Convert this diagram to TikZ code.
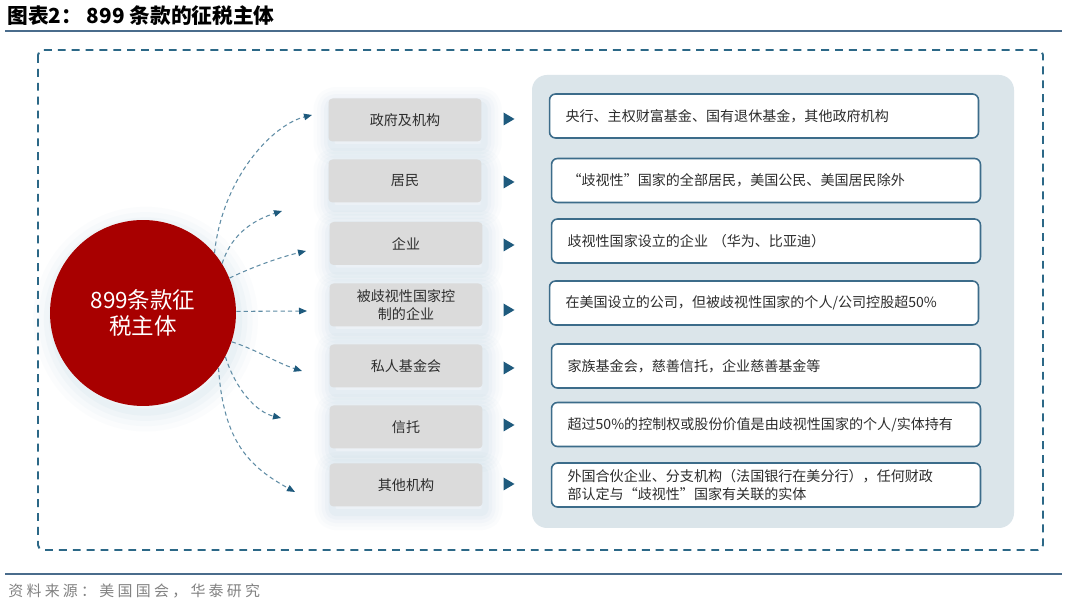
\documentclass[tikz,border=0pt]{standalone}
\usepackage{fontspec}
\setmainfont{Noto Sans CJK SC}
\usetikzlibrary{arrows.meta}
\definecolor{frameblue}{RGB}{44,104,135}
\definecolor{rulecol}{RGB}{74,108,140}
\definecolor{circred}{RGB}{168,0,0}
\definecolor{boxgrey}{RGB}{219,219,219}
\definecolor{panel}{RGB}{219,229,234}
\definecolor{rbord}{RGB}{60,108,138}
\definecolor{tricol}{RGB}{30,90,125}
\definecolor{arrcol}{RGB}{95,140,165}
\definecolor{txt}{RGB}{45,45,45}
\definecolor{glowcol}{RGB}{150,190,212}
\definecolor{footcol}{RGB}{130,130,130}
\tikzset{
  gl/.style 2 args={preaction={draw=glowcol, line width=#1, draw opacity=#2, line join=round, transform canvas={yshift=-3.5pt, xshift=1.5pt}}},
  glow/.style={gl={20pt}{0.035}, gl={16pt}{0.04}, gl={12pt}{0.05}, gl={8pt}{0.06}, gl={4pt}{0.07}},
  lbox/.style={glow, fill=boxgrey, rounded corners=0.08cm, minimum width=3.06cm, minimum height=0.86cm,
    inner sep=0pt, align=center, font=\fontsize{8}{10.2}\selectfont, text=txt},
  rbox/.style={draw=rbord, line width=0.9pt, fill=white, rounded corners=0.12cm, minimum width=8.58cm,
    minimum height=0.88cm, inner xsep=0.32cm, inner ysep=0pt, text width=7.94cm, align=left,
    font=\fontsize{8}{10.6}\selectfont, text=txt},
  carrow/.style={arrcol, line width=0.6pt, dash pattern=on 2.4pt off 1.8pt, -{Triangle[length=0.16cm,width=0.13cm,fill=tricol,color=tricol]}},
}
\begin{document}
\begin{tikzpicture}[x=0.02cm,y=-0.02cm]
\useasboundingbox (0,0) rectangle (1080,607);
\fill[white] (0,0) rectangle (1080,607);
% title
\node[anchor=west, inner sep=0pt, font=\fontsize{11.8}{13}\selectfont\bfseries, text=black] (title) at (7,16) {图表2： 899 条款的征税主体};
\draw[rulecol, line width=0.9pt] (5,31) -- (1062,31);
\draw[rulecol, line width=0.9pt] (5,574) -- (1062,574);
\node[anchor=west, inner sep=0pt, text=footcol, font=\fontsize{8.5}{10}\selectfont\addfontfeatures{LetterSpace=22}] (src) at (8,591) {资料来源：美国国会，华泰研究};
% dashed frame
\draw[frameblue, line width=1.1pt, dash pattern=on 4.5pt off 3.4pt, rounded corners=0.1cm] (38,50) rectangle (1043,550);
% right panel
\fill[panel, rounded corners=0.3cm] (532,75) rectangle (1014,528);
% circle
\node[circle, fill=circred, minimum size=3.72cm, inner sep=0pt, text=white, align=center,
  gl={22pt}{0.035}, gl={16pt}{0.045}, gl={10pt}{0.055}, gl={4pt}{0.07},
  font=\fontsize{12.8}{15.3}\selectfont] (c) at (143,313) {899条款征\\税主体};
% left boxes
\node[lbox] (l1) at (405,120) {政府及机构};
\node[lbox] (l2) at (405,181) {居民};
\node[lbox] (l3) at (406,243.5) {企业};
\node[lbox] (l4) at (406,305) {被歧视性国家控\\制的企业};
\node[lbox] (l5) at (406,366) {私人基金会};
\node[lbox] (l6) at (406,427) {信托};
\node[lbox] (l7) at (406,485) {其他机构};
% triangles
\foreach \i/\yy in {1/119,2/182,3/245,4/310,5/368,6/425,7/484}{
  \coordinate (t\i) at (509,\yy);
  \fill[tricol] (t\i) ++(5.5,0) -- ++(-11,-6.5) -- ++(0,13) -- cycle;
}
% right boxes
\node[rbox] (r1) at (764,116) {央行、主权财富基金、国有退休基金，其他政府机构};
\node[rbox] (r2) at (766,180.5) {“歧视性”国家的全部居民，美国公民、美国居民除外};
\node[rbox] (r3) at (766,241) {歧视性国家设立的企业\ （华为、比亚迪）};
\node[rbox] (r4) at (764,303) {在美国设立的公司，但被歧视性国家的个人/公司控股超50\%};
\node[rbox] (r5) at (766,366) {家族基金会，慈善信托，企业慈善基金等};
\node[rbox] (r6) at (766,424.5) {超过50\%的控制权或股份价值是由歧视性国家的个人/实体持有};
\node[rbox] (r7) at (766,485) {外国合伙企业、分支机构（法国银行在美分行），任何财政\\部认定与“歧视性”国家有关联的实体};
% arrow ends
\coordinate (e1) at (312,115);
\coordinate (e2) at (282,211);
\coordinate (e3) at (306,251);
\coordinate (e4) at (307,311);
\coordinate (e5) at (302,371);
\coordinate (e6) at (281,418);
\coordinate (e7) at (295,492);
\draw[carrow] (c.40) .. controls +(8,-75) and +(-40,10) .. (e1);
\draw[carrow] (c.32) .. controls +(10,-32) and +(-25,8) .. (e2);
\draw[carrow] (c.22) .. controls +(25,-12) and +(-25,6) .. (e3);
\draw[carrow] (c.1) -- (e4);
\draw[carrow] (c.-18) .. controls +(25,8) and +(-25,-8) .. (e5);
\draw[carrow] (c.-28) .. controls +(10,32) and +(-25,-6) .. (e6);
\draw[carrow] (c.-36) .. controls +(5,75) and +(-45,-25) .. (e7);
\end{tikzpicture}
\end{document}
